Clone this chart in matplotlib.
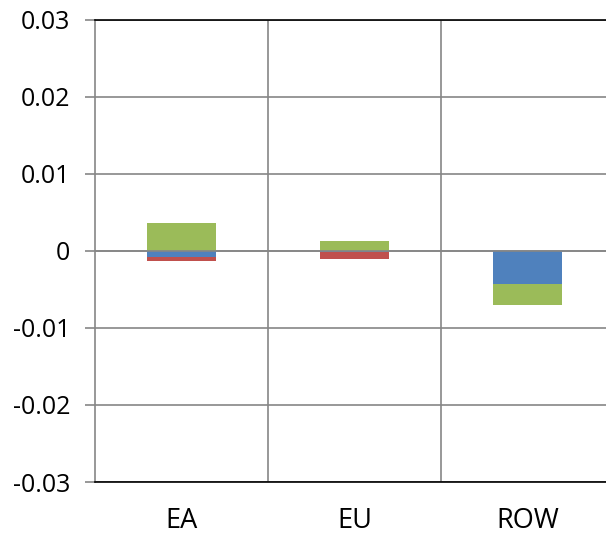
import numpy as np
import matplotlib.pyplot as plt

plt.rcParams['font.family'] = ['Open Sans', 'DejaVu Sans']

regions = ['EA', 'EU', 'ROW']
blue_vals = [-0.0008, -0.0001, -0.0043]
red_vals = [-0.0005, -0.0009, 0.0]
green_vals = [0.0036, 0.0013, -0.0027]

series = [(blue_vals, '#4f81bd'), (red_vals, '#c0504d'), (green_vals, '#9bbb59')]

fig = plt.figure(figsize=(6.06, 5.35), dpi=100)
ax = fig.add_axes([0.157, 0.099, 0.856, 0.864])

x = np.arange(len(regions))
pos_base = np.zeros(len(regions))
neg_base = np.zeros(len(regions))
for vals, col in series:
    v = np.array(vals)
    bottom = np.where(v >= 0, pos_base, neg_base)
    ax.bar(x, v, width=0.4, bottom=bottom, color=col, zorder=3)
    pos_base += np.where(v >= 0, v, 0)
    neg_base += np.where(v < 0, v, 0)

ax.set_xlim(-0.5, 2.5)
ax.set_ylim(-0.03, 0.03)
ax.set_yticks(np.arange(-0.03, 0.031, 0.01))
ax.set_yticklabels(['-0.03', '-0.02', '-0.01', '0', '0.01', '0.02', '0.03'])
ax.set_xticks(x)
ax.set_xticklabels(regions)

# category separators and value gridlines
for b in [0.5, 1.5]:
    ax.axvline(b, color='#868686', lw=1.2, zorder=1)
ax.yaxis.grid(True, color='#868686', lw=1.2, zorder=1)
ax.axhline(0, color='#868686', lw=1.2, zorder=4)
ax.set_axisbelow(True)

ax.spines['left'].set_color('#868686')
ax.spines['left'].set_linewidth(1.2)
ax.spines['top'].set_color('black')
ax.spines['bottom'].set_color('black')
ax.spines['top'].set_linewidth(1.2)
ax.spines['bottom'].set_linewidth(1.2)
ax.spines['right'].set_visible(False)

ax.tick_params(axis='y', length=7, color='#868686', width=1.2, labelsize=18, pad=11)
ax.tick_params(axis='x', length=0, labelsize=19.5, pad=18)

fig.savefig('out.png', dpi=100)
